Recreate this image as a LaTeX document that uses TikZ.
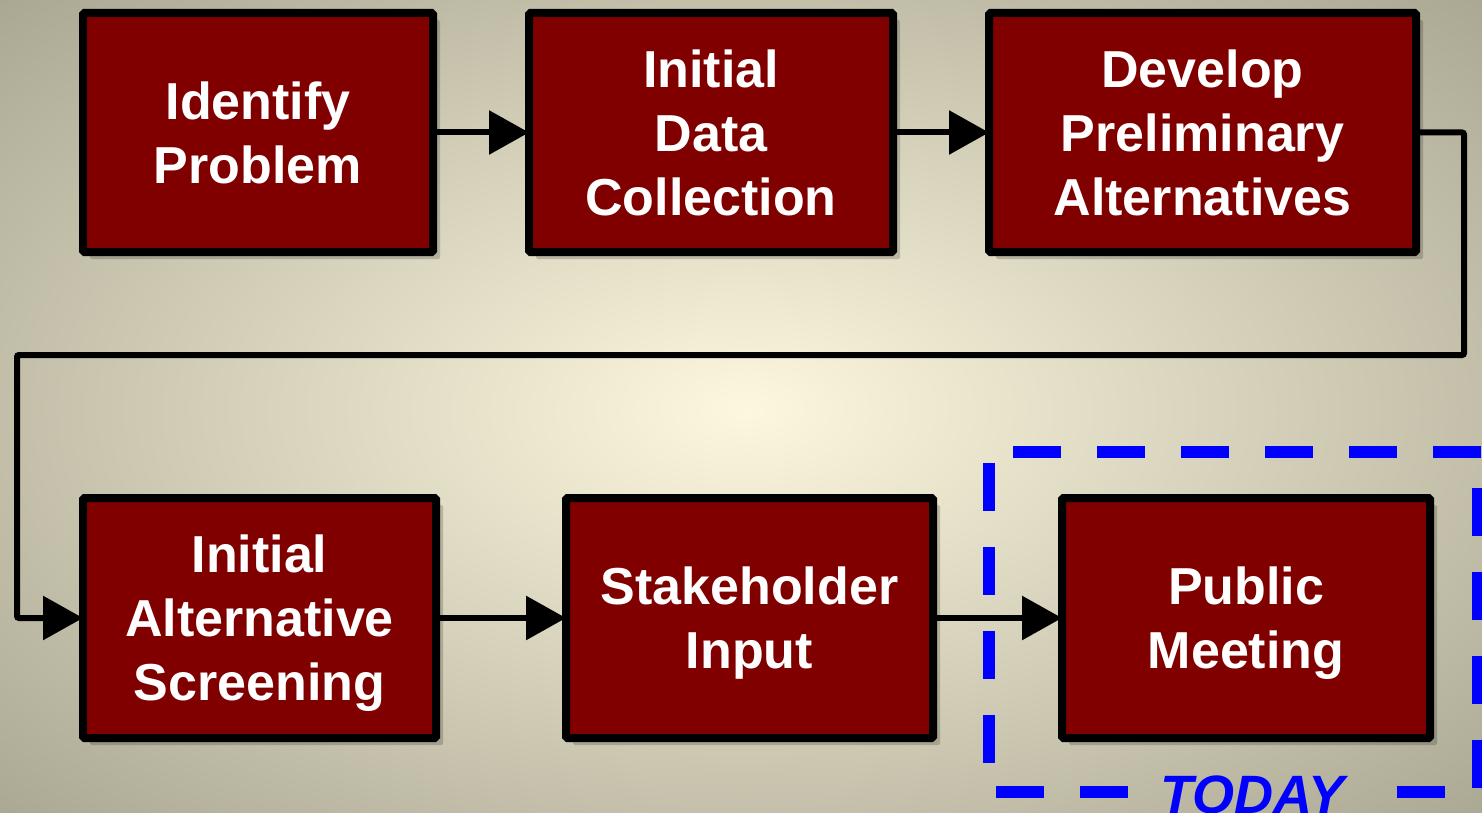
\documentclass[tikz,border=0pt]{standalone}
\usepackage{fontspec}
\setmainfont{Liberation Sans}
\usetikzlibrary{arrows.meta,shadows}
\definecolor{bgin}{HTML}{FDF7DE}
\definecolor{bgout}{HTML}{A9A692}
\definecolor{boxred}{HTML}{800000}
\definecolor{todayblue}{HTML}{0000FF}
\newcommand{\lowered}[1]{\raisebox{-6pt}[\height][\depth]{\begin{tabular}{@{}c@{}}#1\end{tabular}}}
\begin{document}
\begin{tikzpicture}[x=1pt,y=-1pt,
  stepbox/.style={draw=black, line width=8pt, fill=boxred, rounded corners=1.5pt,
    text=white, font=\fontsize{52}{64}\selectfont\bfseries, align=center,
    inner sep=0pt, outer sep=0pt,
    drop shadow={shadow xshift=3pt, shadow yshift=-3pt, opacity=0.3, fill=black},
    drop shadow={shadow xshift=7pt, shadow yshift=-7pt, opacity=0.18, fill=black}},
  flow/.style={line width=6pt, draw=black, -{Triangle[length=40pt,width=43pt]}},
  today/.style={line width=12pt, draw=todayblue}
]
\useasboundingbox (0,0) rectangle (1482,813);
\begin{scope}
  \clip (0,0) rectangle (1482,813);
  \shade[inner color=bgin, outer color=bgout] (745,410) ellipse [x radius=1060pt, y radius=590pt];
\end{scope}

% dashed "today" frame
\draw[today, dash pattern=on 48pt off 36pt, dash phase=73pt] (989,452) -- (989,792);
\draw[today, dash pattern=on 48pt off 36pt, dash phase=60pt] (989,452) -- (1490,452);
\draw[today, dash pattern=on 48pt off 36pt, dash phase=48pt] (1478,452) -- (1478,792);
\draw[today] (996,792) -- (1044,792);
\draw[today] (1080,792) -- (1128,792);
\draw[today] (1397,792) -- (1445,792);
\node[anchor=base, text=todayblue, font=\fontsize{54}{60}\selectfont\bfseries\itshape, inner sep=0pt] (today) at (1252,813) {TODAY};

% boxes
\node[stepbox, minimum width=350pt, minimum height=239pt] (b1) at (258,132.5) {Identify\\Problem};
\node[stepbox, minimum width=364pt, minimum height=239pt] (b2) at (711,132.5) {Initial\\Data\\Collection};
\node[stepbox, minimum width=427pt, minimum height=239pt] (b3) at (1202.5,132.5) {Develop\\Preliminary\\Alternatives};
\node[stepbox, minimum width=353pt, minimum height=240pt] (b4) at (259.5,618) {\lowered{Initial\\Alternative\\Screening}};
\node[stepbox, minimum width=367pt, minimum height=240pt] (b5) at (749.5,618) {\lowered{Stakeholder\\Input}};
\node[stepbox, minimum width=368pt, minimum height=240pt] (b6) at (1246,618) {\lowered{Public\\Meeting}};

% connectors
\coordinate (c1) at (1464,355);
\coordinate (c2) at (17,355);
\draw[flow] (b1.east) -- (b2.west);
\draw[flow] (b2.east) -- (b3.west);
\draw[flow, rounded corners=2pt] (b3.east) -| (c1) -- (c2) |- (b4.west);
\draw[flow] (b4.east) -- (b5.west);
\draw[flow] (b5.east) -- (b6.west);
\end{tikzpicture}
\end{document}
